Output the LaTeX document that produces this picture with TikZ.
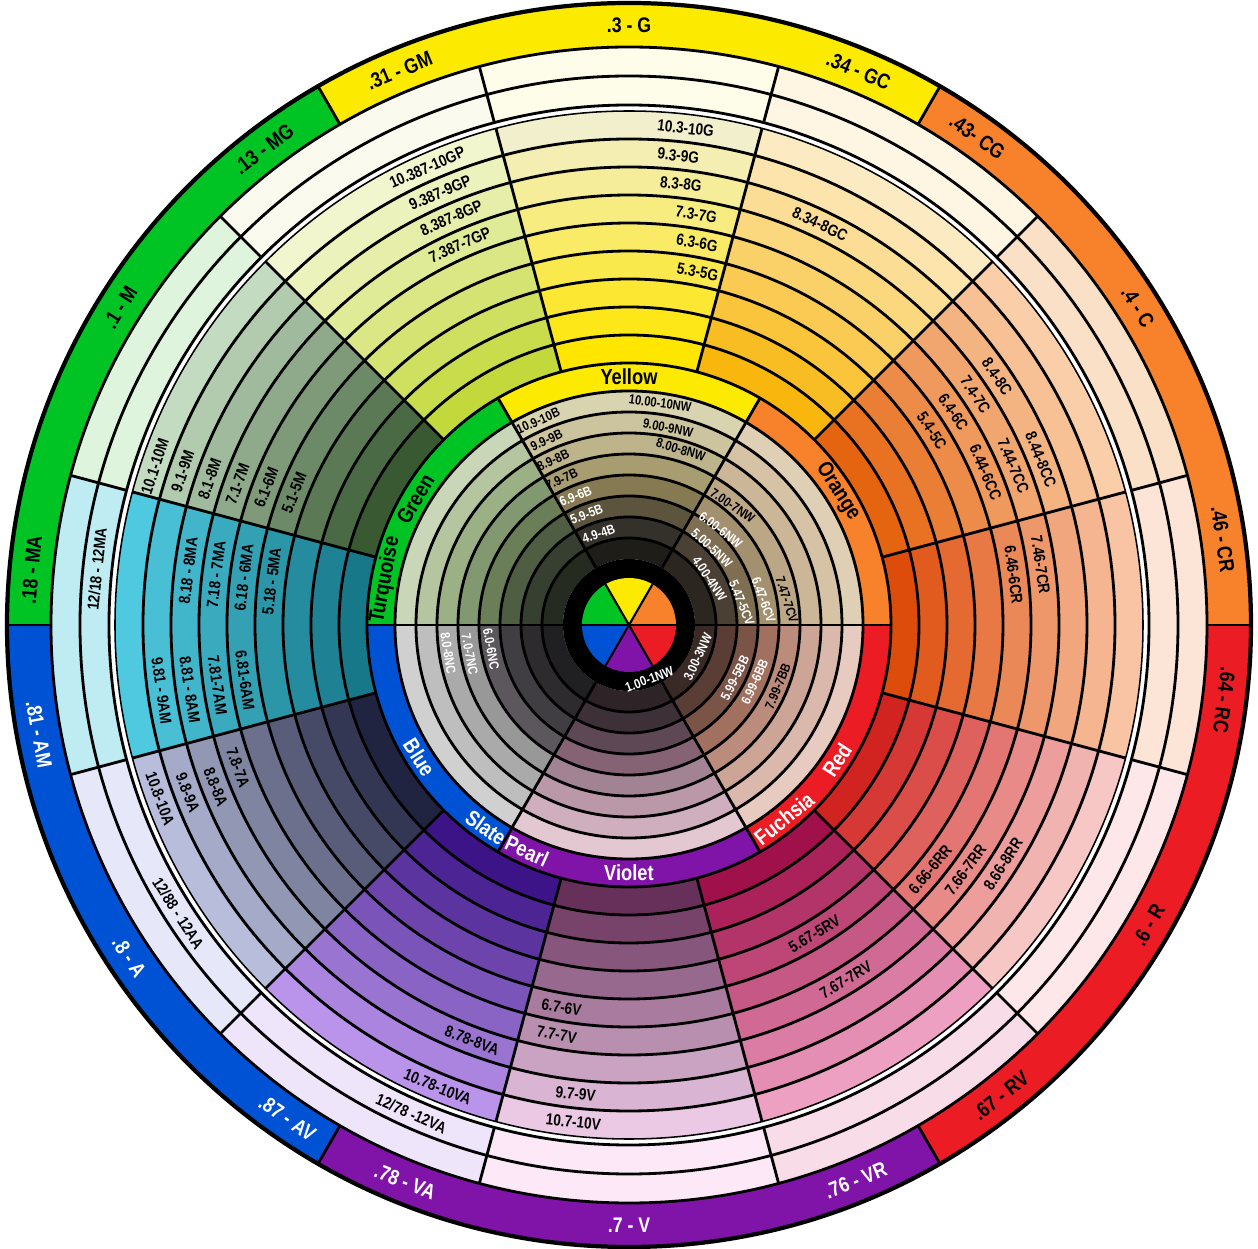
\documentclass[tikz,border=0pt]{standalone}
\usepackage{fontspec}
\newfontfamily\wheelfont{Liberation Sans Bold}[FakeStretch=0.84]
\usepackage{tikz}

% rim and hue-name colours
\definecolor{rimorange}{HTML}{F7822B}
\definecolor{rimyellow}{HTML}{FCEA00}
\definecolor{rimgreen}{HTML}{00C423}
\definecolor{rimblue}{HTML}{0052D4}
\definecolor{rimviolet}{HTML}{8014A8}
\definecolor{rimred}{HTML}{EC1C24}
% twelve outer sectors: dark (inner), light (outer), pale (tint rings)
\definecolor{crdark}{HTML}{DE4C0C}\definecolor{crlight}{HTML}{F8C4A4}\definecolor{crpale}{HTML}{FCE4D6}
\definecolor{cdark}{HTML}{E5640F}\definecolor{clight}{HTML}{F9CEA8}\definecolor{cpale}{HTML}{FBE0C8}
\definecolor{gcdark}{HTML}{F9B70E}\definecolor{gclight}{HTML}{FCEAC2}\definecolor{gcpale}{HTML}{FEF5E2}
\definecolor{gdark}{HTML}{FFE600}\definecolor{glight}{HTML}{F2EFCC}\definecolor{gpale}{HTML}{FEFDEA}
\definecolor{gpdark}{HTML}{C3D83A}\definecolor{gplight}{HTML}{F2F6CF}\definecolor{gppale}{HTML}{FAFBEE}
\definecolor{mdark}{HTML}{395933}\definecolor{mlight}{HTML}{C3DBC0}\definecolor{mpale}{HTML}{DFF4DD}
\definecolor{madark}{HTML}{177889}\definecolor{malight}{HTML}{4FC9DF}\definecolor{mapale}{HTML}{BEECF2}
\definecolor{adark}{HTML}{212440}\definecolor{alight}{HTML}{B7BDDA}\definecolor{apale}{HTML}{E6E8FA}
\definecolor{vadark}{HTML}{3D1487}\definecolor{valight}{HTML}{B994EA}\definecolor{vapale}{HTML}{EFE5FA}
\definecolor{vdark}{HTML}{66305A}\definecolor{vlight}{HTML}{EBC8E4}\definecolor{vpale}{HTML}{FDE8F8}
\definecolor{rvdark}{HTML}{A0104A}\definecolor{rvlight}{HTML}{EDA0C1}\definecolor{rvpale}{HTML}{F8DCE7}
\definecolor{rrdark}{HTML}{D12420}\definecolor{rrlight}{HTML}{F6C7C5}\definecolor{rrpale}{HTML}{FEE7E8}

\tikzset{
  ringline/.style={draw=black,line width=2pt},
  rimline/.style={draw=black,line width=3pt},
  thinline/.style={draw=black,line width=1.1pt},
  rimlab/.style={font=\wheelfont\fontsize{15}{15}\selectfont,inner sep=0pt},
  huelab/.style={font=\wheelfont\fontsize{15.5}{15.5}\selectfont,inner sep=0pt},
  bandlab/.style={font=\wheelfont\fontsize{11.5}{11.5}\selectfont,inner sep=0pt},
  corelab/.style={font=\wheelfont\fontsize{9.5}{9.5}\selectfont,inner sep=0pt}
}
% annular sector: start angle, end angle, inner radius, outer radius, colour
\newcommand{\ringpart}[5]{\fill[#5] (#1:#3) arc[start angle=#1,end angle=#2,radius=#3]
  -- (#2:#4) arc[start angle=#2,end angle=#1,radius=#4] -- cycle;}

\begin{document}
\begin{tikzpicture}[x=0.025cm,y=0.025cm]
  \useasboundingbox (-629,-624) rectangle (629,625);
  \fill[white] (-629,-624) rectangle (629,625);
  % rim of six hues
  \foreach \st/\col in {0/rimorange,60/rimyellow,120/rimgreen,180/rimblue,240/rimviolet,300/rimred}
    {\ringpart{\st}{\st+60}{578}{622}{\col}}
  % pale tints and graded bands
  \foreach \sn/\st in {cr/-15,c/15,gc/45,g/75,gp/105,m/135,ma/165,a/195,va/225,v/255,rv/285,rr/315}{
    \colorlet{palecol}{\sn pale}
    \ringpart{\st}{\st+30}{520}{578}{palecol}
    \foreach \lev in {2,...,10}{
      \pgfmathsetmacro\rin{262+28*(\lev-2)}
      \pgfmathsetmacro\mix{12.5*(\lev-2)}
      \colorlet{bandcol}{\sn light!\mix!\sn dark}
      \ringpart{\st}{\st+30}{\rin}{\rin+28}{bandcol}
    }
  }
  % hue-name ring
  \foreach \st/\col in {0/rimorange,60/rimyellow,120/rimgreen,180/rimblue,240/rimviolet,300/rimred}
    {\ringpart{\st}{\st+60}{234}{262}{\col}}
  % neutral core
  \foreach \st/\clist in {
      0/{2C2620,4A4134,7E6E52,A2906E,BBA685,CBB697,D6C3A6,DFCFB4},
      60/{1F1D18,34302A,5C543C,857A52,A89C71,BEB48B,CCC49E,D9D4B0},
      120/{262B22,373F30,4F5E42,6A7E58,829871,9CB085,B5C59F,C9D6B7},
      180/{201F21,2D2B2E,403E42,5B575D,989898,AAAAAA,BEBEBE,D0D0D0},
      240/{2E2428,3E3037,5E4855,866275,A28393,BA98A8,CFAEBD,E4C8D1},
      300/{3A2A26,5A3E35,7B5448,A2705F,BB8B7B,CCA597,DAB9AC,E7CBC0}}{
    \foreach \hx [count=\i from 0] in \clist {
      \definecolor{corecol}{HTML}{\hx}
      \pgfmathsetmacro\rin{66+21*\i}
      \ringpart{\st}{\st+60}{\rin}{\rin+21}{corecol}
    }
  }
  \fill[black] (0,0) circle[radius=66];
  \foreach \st/\col in {0/rimorange,60/rimyellow,120/rimgreen,180/rimblue,240/rimviolet,300/rimred}
    {\fill[\col] (0,0) -- (\st:47) arc[start angle=\st,end angle=\st+60,radius=47] -- cycle;}

  % circles
  \foreach \rad in {87,108,...,213,234,262,290,318,...,486,520,549,578}
    {\draw[ringline] (0,0) circle[radius=\rad];}
  \draw[thinline] (0,0) circle[radius=514];
  \draw[rimline] (0,0) circle[radius=622];
  % spokes
  \foreach \ang in {15,45,...,345}{
    \draw[ringline] (\ang:262) -- (\ang:514);
    \draw[ringline] (\ang:520) -- (\ang:578);
  }
  \foreach \ang in {0,60,...,300}{
    \draw[ringline] (\ang:66) -- (\ang:262);
    \draw[ringline] (\ang:578) -- (\ang:622);
    \draw[draw=black,line width=1.5pt] (0,0) -- (\ang:47);
  }

  % rim labels
  \foreach \ang/\rot/\txt [count=\i] in {90/0/{.3 - G},112.5/22.5/{.31 - GM},67.5/-22.5/{.34 - GC},
      127.5/37.5/{.13 - MG},54.5/-35.5/{.43- CG},148/58/{.1 - M},32/-58/{.4 - C},
      174.7/84.7/{.18 - MA},8.2/-81.8/{.46 - CR},352.8/-97.2/{.64 - RC},330/60/{.6 - R},
      308.3/38.3/{.67 - RV}}
    {\node[rimlab,rotate=\rot] (rim\i) at (\ang:600) {\txt};}
  \foreach \ang/\rot/\txt [count=\i] in {190.5/-79.5/{.81 - AM},213.6/-56.4/{.8 - A},
      235.3/-34.7/{.87 - AV},248.1/-21.9/{.78 - VA},270/0/{.7 - V},292.2/22.2/{.76 - VR}}
    {\node[rimlab,text=white,rotate=\rot] (rimw\i) at (\ang:600) {\txt};}
  % tint labels
  \foreach \ang/\rot/\txt [count=\i] in {174/84/{12/18 - 12MA},212.6/-57.4/{12/88 - 12AA},
      246/-24/{12/78 -12VA}}
    {\node[bandlab,rotate=\rot] (tint\i) at (\ang:535) {\txt};}
  % hue names
  \foreach \ang/\rot/\txt [count=\i] in {90/0/Yellow,32.6/-57.4/Orange,149.5/59.5/Green,
      169.5/79.5/Turquoise}
    {\node[huelab,rotate=\rot] (hue\i) at (\ang:248) {\txt};}
  \foreach \ang/\rot/\txt [count=\i] in {212.3/-57.7/Blue,234.8/-35.2/Slate,245.7/-24.3/Pearl,
      270/0/Violet,308.7/38.7/Fuchsia,327/57/Red}
    {\node[huelab,text=white,rotate=\rot] (huew\i) at (\ang:248) {\txt};}
  % band labels
  \foreach \ang/\rad/\rot/\txt [count=\i] in {
      83.5/500/-6.5/{10.3-10G},84/472/-6/{9.3-9G},83.3/444/-6.7/{8.3-8G},80.7/416/-9.3/{7.3-7G},
      79.9/388/-10.1/{6.3-6G},79/360/-11/{5.3-5G},
      113.8/500/23.8/{10.387-10GP},113.6/472/23.6/{9.387-9GP},113.6/444/23.6/{8.387-8GP},
      114/416/24/{7.387-7GP},
      161.5/500/71.5/{10.1-10M},161/472/71/{9.1-9M},160.8/444/70.8/{8.1-8M},160.2/416/70.2/{7.1-7M},
      159.2/388/69.2/{6.1-6M},158.5/360/68.5/{5.1-5M},
      173/444/83/{8.18 - 8MA},173/416/83/{7.18 - 7MA},173/388/83/{6.18 - 6MA},173/360/83/{5.18 - 5MA},
      188/472/-82/{9.81 - 9AM},188.4/444/-81.6/{8.81 - 8AM},188.3/416/-81.7/{7.81-7AM},
      188.2/388/-81.8/{6.81-6AM},
      200.3/500/-69.7/{10.8-10A},200.8/472/-69.2/{9.8-9A},201.4/444/-68.6/{8.8-8A},200/416/-70/{7.8-7A},
      247.5/500/-22.5/{10.78-10VA},249.3/444/-20.7/{8.78-8VA},
      260/388/-10/{6.7-6V},260/416/-10/{7.7-7V},263.5/472/-6.5/{9.7-9V},263.6/500/-6.4/{10.7-10V},
      301/360/31/{5.67-5RV},301.4/416/31.4/{7.67-7RV},
      320.9/388/50.9/{6.66-6RR},324/416/54/{7.66-7RR},327.4/444/57.4/{8.66-8RR},
      7.4/388/-82.6/{6.46-6CR},8.3/416/-81.7/{7.46-7CR},
      34/444/-56/{8.4-8C},33.6/416/-56.4/{7.4-7C},33.3/388/-56.7/{6.4-6C},32.7/360/-57.3/{5.4-5C},
      21.9/444/-68.1/{8.44-8CC},22.5/416/-67.5/{7.44-7CC},23.2/388/-66.8/{6.44-6CC},
      64.5/444/-25.5/{8.34-8GC}}
    {\node[bandlab,rotate=\rot] (band\i) at (\ang:\rad) {\txt};}
  % core labels
  \foreach \ang/\rad/\rot/\txt [count=\i] in {
      114/223.5/24/{10.9-10B},114/202.5/24/{9.9-9B},114.7/181.5/24.7/{8.9-8B},114.8/160.5/24.8/{7.9-7B},
      82/224/-8/{10.00-10NW},78.8/201/-11.2/{9.00-9NW},73.5/183/-16.5/{8.00-8NW},
      49/158/-34/{7.00-7NW},9/160/-72/{7.47-7CV},337.7/161/67.7/{7.99-7BB}}
    {\node[corelab,rotate=\rot] (core\i) at (\ang:\rad) {\txt};}
  \foreach \ang/\rad/\rot/\txt [count=\i] in {
      112.5/139.5/22.5/{6.9-6B},111/118.5/21/{5.9-5B},108.4/96/18.4/{4.9-4B},
      46/132/-38/{6.00-6NW},42.9/113/-43/{5.00-5NW},30/93/-56/{4.00-4NW},
      11/115/-68/{5.47-5CV},10.5/137/-70/{6.47-6CV},
      189/183/-81/{8.0-8NC},190.5/162/-79.5/{7.0-7NC},190/140/-80/{6.0-6NC},
      290.6/58/20.6/{1.00-1NW},335/76/65/{3.00-3NW},333.4/118.5/63.4/{5.99-5BB},335.7/138/65.7/{6.99-6BB}}
    {\node[corelab,text=white,rotate=\rot] (corew\i) at (\ang:\rad) {\txt};}
\end{tikzpicture}
\end{document}
